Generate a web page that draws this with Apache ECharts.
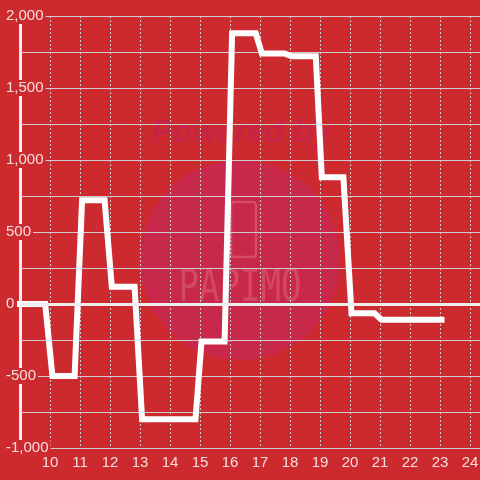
<!DOCTYPE html>
<html>
<head>
<meta charset="utf-8">
<script src="https://cdn.jsdelivr.net/npm/echarts@6/dist/echarts.min.js"></script>
<style>
	html, body { margin: 0; padding: 0; background: #cd2a2f; }
	#chart { width: 480px; height: 480px; }
</style>
</head>
<body>
<div id="chart"></div>
<script>
	// hour of day (x) and value (y) at each corner of the line
	const times = [8.84, 9.84, 10.08, 10.82, 11.07, 11.82, 12.06, 12.82, 13.07, 14.85, 15.05, 15.82, 16.07, 16.86, 17.06, 17.82, 18.05, 18.86, 19.06, 19.78, 20.05, 20.82, 21.05, 23.15];
	const values = [0, 0, -500, -500, 720, 720, 120, 120, -800, -800, -260, -260, 1880, 1880, 1740, 1740, 1720, 1720, 880, 880, -65, -65, -110, -110];
	const yTicks = { min: -1000, max: 2000, step: 500 };
	const xTicks = { min: 9, max: 25, step: 1 };

	const bg = "#cd2a2f";
	const textColor = "#f5dede";
	const gridColor = "#cccccc";

	const chart = echarts.init(document.getElementById("chart"));

	const option = {
		backgroundColor: bg,
		animation: false,
		grid: {
			left: 20,
			right: -20,
			top: 16,
			bottom: 32,
			outerBoundsMode: "none",
			containLabel: false
		},
		xAxis: {
			type: "value",
			min: xTicks.min,
			max: xTicks.max,
			interval: xTicks.step,
			axisLine: { show: false },
			axisTick: { show: false },
			axisLabel: {
				color: textColor,
				fontSize: 15,
				fontFamily: "Liberation Sans",
				margin: 7,
				formatter: v => (v === xTicks.min ? "" : String(v))
			},
			splitLine: {
				show: true,
				lineStyle: { color: gridColor, width: 1, type: [2, 2] }
			}
		},
		yAxis: {
			type: "value",
			min: yTicks.min,
			max: yTicks.max,
			interval: yTicks.step,
			axisLine: { show: true, lineStyle: { color: "#eeeeee", width: 3 } },
			axisTick: { show: false },
			axisLabel: {
				color: textColor,
				fontSize: 15,
				fontFamily: "Liberation Sans",
				align: "left",
				margin: 15,
				backgroundColor: bg,
				padding: [1, 2, 0, 1]
			},
			splitLine: { show: true, lineStyle: { color: gridColor, width: 1 } },
			minorTick: { show: false, splitNumber: 2 },
			minorSplitLine: { show: true, lineStyle: { color: gridColor, width: 1 } }
		},
		// watermark in the middle
		graphic: [
			{
				type: "circle",
				z: -10,
				silent: true,
				shape: { cx: 240, cy: 260, r: 100 },
				style: { fill: "#c8284a" }
			},
			{
				type: "text",
				z: -9,
				silent: true,
				x: 241,
				y: 133,
				style: {
					text: "Powered by",
					fill: "#c62446",
					font: "italic bold 32px 'Liberation Sans'",
					align: "center",
					verticalAlign: "middle"
				}
			},
			{
				type: "rect",
				z: -9,
				silent: true,
				shape: { x: 231, y: 202, width: 25, height: 55, r: 3 },
				style: { fill: null, stroke: "rgba(228,110,130,0.5)", lineWidth: 2.5 }
			},
			{
				type: "text",
				z: -9,
				silent: true,
				x: 240,
				y: 290,
				scaleY: 1.3,
				style: {
					text: "PAPIMO",
					fill: "rgba(228,110,130,0.45)",
					font: "34px 'DejaVu Sans Mono'",
					align: "center",
					verticalAlign: "middle"
				}
			}
		],
		series: [
			{
				type: "line",
				data: times.map((t, i) => [t, values[i]]),
				showSymbol: false,
				lineStyle: { color: "#ffffff", width: 6, join: "miter", cap: "butt" },
				markLine: {
					silent: true,
					symbol: ["none", "none"],
					label: { show: false },
					lineStyle: { color: "#eeeeee", width: 3, type: "solid" },
					data: [{ yAxis: 0 }]
				}
			}
		]
	};

	chart.setOption(option);
</script>
</body>
</html>
